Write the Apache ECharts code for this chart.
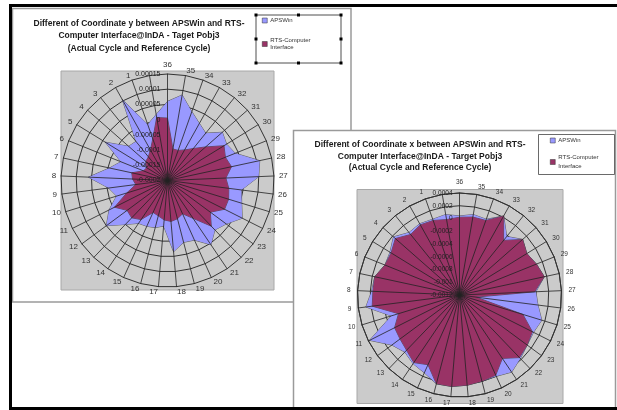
<!DOCTYPE html>
<html><head><meta charset="utf-8">
<script src="https://cdn.jsdelivr.net/npm/echarts@6/dist/echarts.min.js"></script>
<style>html,body{margin:0;padding:0;background:#fff}#c{width:617px;height:410px}</style>
</head><body><div id="c"></div>
<script>
// categories in radar order (top, then counter-clockwise)
const categories = ['36','','1','2','3','4','5','6','7','8','9','10','11','12','13','14','15','16','17','18','19','20','21','22','23','24','25','26','27','28','29','30','31','32','33','34','35'];
const seriesNames = ['APSWin','RTS-Computer Interface'];

// Chart 1: difference of coordinate y
const yApsWin = [0.00006,0.00002,-0.000005,0.000105,-0.000035,-0.00003,0.00004,-0.000035,-0.000005,0.00006,-0.000005,-0.000025,0.000015,0.00005,0,-0.00003,-0.000035,-0.00004,-0.00005,0.000035,0.00001,0.000015,0.000055,0.000025,0.00004,0.000075,0.000055,0.000045,0.0001,0.00011,0.00004,0.000028,0.00004,0,0.000015,0.00004,0.000085];
const yRts = [0.000005,0.00001,-0.000055,-0.000085,-0.0001,-0.000105,-0.00012,-0.000115,-0.00008,-0.000085,-0.000095,-0.00006,-0.000005,-0.000035,-0.00003,-0.000045,-0.000085,-0.00008,-0.00007,-0.000065,-0.00007,-0.00008,-0.00005,0.000008,-0.000025,0.00001,0.00001,0.000003,-0.000008,0.000015,0.000005,0.000018,-0.000033,-0.000065,-0.000085,-0.000095,-0.000095];
const yAxisMin = -0.0002, yAxisMax = 0.00015, yAxisSplits = 7;

// Chart 2: difference of coordinate x
const xApsWin = [0.00004,0.00008,0.00006,0.00008,0.00006,0.00018,0.00008,0.00006,0.00016,0.00018,0.00028,-0.00008,0.00038,0.00012,0.00004,0.0001,0.00014,0.00024,0.00024,0.00022,0.0002,0.0002,0.00026,0.00018,0.00012,0.0001,0.00015,0.00004,0,0.00016,0.0001,0.00004,0.00012,-0.00002,0.00022,0.00006,0.00008];
const xRts = [0.00002,0,0.00004,0.00006,0.00002,0.00014,0.00006,0.00006,0.00016,0.00016,0.00018,-0.0002,-0.00006,-0.00004,0,0.00008,0,0.00024,0.00024,0.00022,0.0002,0.00018,0,0.00016,0.00012,0.00008,-0.00016,-0.00094,-0.00002,0.00016,0.0001,0.00004,0.00012,-0.0001,0.00022,0.00004,0.00004];
const xAxisMin = -0.0012, xAxisMax = 0.0004, xAxisSplits = 8;

const title1 = 'Different of Coordinate y between APSWin and RTS-\nComputer Interface@InDA - Taget Pobj3\n(Actual Cycle and Reference Cycle)';
const title2 = 'Different of Coordinate x between APSWin and RTS-\nComputer Interface@InDA - Target Pobj3\n(Actual Cycle and Reference Cycle)';

const FONT = '"Liberation Sans", Arial, sans-serif';
const fmt = v => String(+(+v).toFixed(6));

function indicators(min, max, withLabels, labelSize) {
  return categories.map((name, i) => {
    const o = { name: name, min: min, max: max };
    if (withLabels && i === 0) {
      o.axisLabel = { show: true, fontSize: labelSize, color: '#222', fontFamily: FONT, margin: 7, formatter: fmt, showMinLabel: true, showMaxLabel: true };
    }
    return o;
  });
}

function radarPair(center, radius, min, max, splits, nameSize, labelSize, gap) {
  const base = { center: center, radius: radius, shape: 'polygon', startAngle: 90, splitNumber: splits };
  return [
    Object.assign({}, base, {
      z: 0,
      indicator: indicators(min, max, false),
      axisName: { show: false },
      axisLine: { show: false },
      axisTick: { show: false },
      axisLabel: { show: false },
      splitArea: { show: false },
      splitLine: { show: true, lineStyle: { color: '#333', width: 1 } }
    }),
    Object.assign({}, base, {
      z: 5,
      indicator: indicators(min, max, true, labelSize),
      nameGap: gap,
      axisName: { show: true, color: '#333', fontSize: nameSize, fontFamily: FONT },
      axisLine: { show: true, lineStyle: { color: '#222', width: 0.8 } },
      axisTick: { show: false },
      axisLabel: { show: false },
      splitArea: { show: false },
      splitLine: { show: false }
    })
  ];
}

const blue = '#9999FF', maroon = '#993366';
function radarSeries(radarIndex, values, name, color) {
  return {
    type: 'radar', radarIndex: radarIndex, symbol: 'none', silent: true, z: 2,
    lineStyle: { color: '#333', width: 0.7 },
    itemStyle: { color: color },
    areaStyle: { color: color, opacity: 1 },
    data: [{ value: values, name: name }]
  };
}

const legendFmt = n => n === 'RTS-Computer Interface' ? 'RTS-Computer\nInterface' : n;
function legend(left, top, gap, lh) {
  return {
    left: left, top: top, orient: 'vertical', data: seriesNames, formatter: legendFmt,
    icon: 'rect', itemWidth: 5, itemHeight: 5, itemGap: gap, padding: 0, selectedMode: false,
    itemStyle: { borderColor: '#333', borderWidth: 0.5 },
    textStyle: { fontSize: 6, color: '#333', lineHeight: lh, fontFamily: FONT, padding: [0, 0, 0, -2] }
  };
}

function handle(x, y) {
  return { type: 'rect', z: -5, shape: { x: x - 1.5, y: y - 1.5, width: 3, height: 3 }, style: { fill: '#000' } };
}

const chart = echarts.init(document.getElementById('c'), null, { renderer: 'canvas' });
chart.setOption({
  animation: false,
  radar: [].concat(
    radarPair([167.5, 180.5], 106.5, yAxisMin, yAxisMax, yAxisSplits, 8, 7, 5),
    radarPair([459.5, 295], 102, xAxisMin, xAxisMax, xAxisSplits, 6.5, 6.5, 7)
  ),
  legend: [legend(262, 17, 13, 7), legend(550, 136, 8, 9)],
  series: [
    radarSeries(0, yApsWin, seriesNames[0], blue),
    radarSeries(0, yRts, seriesNames[1], maroon),
    radarSeries(2, xApsWin, seriesNames[0], blue),
    radarSeries(2, xRts, seriesNames[1], maroon)
  ],
  graphic: [
    // chart 1 frame, plot area, legend box
    { type: 'rect', z: -20, shape: { x: 12.5, y: 8.5, width: 338.5, height: 293.5 }, style: { fill: '#fff', stroke: '#9a9a9a', lineWidth: 1.5 } },
    { type: 'rect', z: -19, shape: { x: 61, y: 71, width: 213, height: 219 }, style: { fill: '#cbcbcb', stroke: '#a8a8a8', lineWidth: 1 } },
    { type: 'rect', z: -18, shape: { x: 256, y: 15, width: 85, height: 48 }, style: { fill: '#fff', stroke: '#222', lineWidth: 0.8 } },
    handle(256, 15), handle(298.5, 15), handle(341, 15),
    handle(256, 39), handle(341, 39),
    handle(256, 63), handle(298.5, 63), handle(341, 63),
    { type: 'text', z: 10, x: 139, y: 36, style: { text: title1, fill: '#1a1a1a', fontSize: 8.5, fontWeight: 'bold', fontFamily: FONT, align: 'center', verticalAlign: 'middle', lineHeight: 12.5 } },
    // chart 2 frame, plot area, legend box
    { type: 'rect', z: -9, shape: { x: 293.5, y: 130.5, width: 322, height: 285 }, style: { fill: '#fff', stroke: '#9a9a9a', lineWidth: 1.5 } },
    { type: 'rect', z: -8, shape: { x: 357, y: 189.5, width: 206, height: 214 }, style: { fill: '#cbcbcb', stroke: '#a8a8a8', lineWidth: 1 } },
    { type: 'rect', z: -8, shape: { x: 538.5, y: 134.5, width: 76, height: 40 }, style: { fill: '#fff', stroke: '#444', lineWidth: 0.8 } },
    { type: 'text', z: 10, x: 420, y: 156.5, style: { text: title2, fill: '#1a1a1a', fontSize: 8.5, fontWeight: 'bold', fontFamily: FONT, align: 'center', verticalAlign: 'middle', lineHeight: 11.5 } },
    // outer black border
    { type: 'rect', z: 100, shape: { x: 10.5, y: 5.5, width: 620, height: 403 }, style: { fill: 'none', stroke: '#000', lineWidth: 3 } }
  ]
});
</script></body></html>
